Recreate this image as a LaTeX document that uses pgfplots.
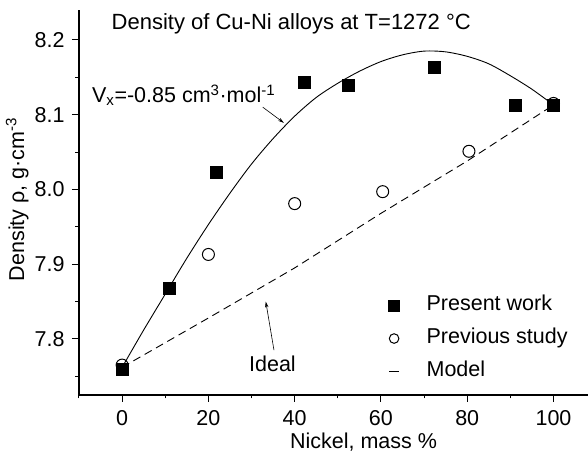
\documentclass[border=0pt]{standalone}
\usepackage{fontspec}
\setmainfont{Liberation Sans}
\usepackage{pgfplots}
\pgfplotsset{compat=1.18}
\usetikzlibrary{arrows.meta}
\newcommand\fs{\fontsize{21.5}{26}\selectfont}
\pgfplotsset{
  markleg/.style={legend image code/.code={\draw[##1] plot coordinates {(0pt,0pt)}; \path (-6pt,0pt) (29pt,0pt);}},
  lineleg/.style={legend image code/.code={\draw[##1] (-5pt,0pt) -- (5pt,0pt); \path (-6pt,0pt) (29pt,0pt);}},
}

\begin{document}
\begin{tikzpicture}
\path[use as bounding box] (0,0) rectangle (588pt,457pt);
\begin{axis}[
  at={(79pt,62pt)}, anchor=south west,
  scale only axis, width=509pt, height=385pt,
  xmin=-10, xmax=108, ymin=7.725, ymax=8.24,
  clip=false,
  axis x line=bottom, axis y line=left,
  axis line style={-, line width=1.1pt},
  tick align=outside,
  major tick length=7pt, minor tick length=3.5pt,
  tick style={black, line width=1pt},
  xtick={0,20,40,60,80,100},
  minor xtick={-10,10,30,50,70,90},
  ytick={7.8,7.9,8.0,8.1,8.2},
  minor ytick={7.75,7.85,7.95,8.05,8.15},
  /pgf/number format/assume math mode=true,
  yticklabel style={xshift=-4pt, /pgf/number format/.cd, fixed, fixed zerofill, precision=1},
  xticklabel style={yshift=-5pt},
  tick label style={font=\fs},
  label style={font=\fs},
  xlabel={Nickel, mass \%},
  ylabel={Density ρ, g·cm\textsuperscript{-3}},
  xlabel style={at={(axis description cs:0.559,-0.138)}, anchor=base},
  ylabel style={at={(axis description cs:-0.108,0.508)}, anchor=base, rotate=0},
  legend style={draw=none, fill=none, font=\fs,
    at={(axis cs:60.8,7.865)}, anchor=north west,
    nodes={inner sep=3pt, text height=15pt, text depth=5pt},
    row sep=7pt},
  legend cell align=left,
]
\addlegendimage{black, only marks, mark=square*, mark size=5.5pt, markleg}
\addlegendentry{Present work}
\addlegendimage{black, only marks, mark=o, mark size=4.8pt, line width=1pt, markleg}
\addlegendentry{Previous study}
\addlegendimage{black, line width=0.9pt, lineleg}
\addlegendentry{Model}

% model curve, V_x = -0.85
\addplot[black, line width=0.9pt, smooth, forget plot] coordinates {
(0,7.762) (5,7.812) (10,7.860) (15,7.908) (20,7.953) (25,7.995) (30,8.034)
(35,8.068) (40,8.098) (45,8.123) (50,8.142) (55,8.158) (60,8.171) (65,8.180)
(70,8.185) (75,8.184) (80,8.178) (85,8.168) (90,8.152) (95,8.134) (100,8.113)};
% ideal
\addplot[black, line width=0.9pt, dash pattern=on 8pt off 5pt, forget plot] coordinates {
(0,7.762) (20,7.828) (40,7.895) (60,7.968) (80,8.038) (100,8.113)};
% previous study
\addplot[black, only marks, mark=o, mark size=6pt, line width=1pt, forget plot] coordinates {
(0,7.765) (20,7.913) (40,7.981) (60.4,7.997) (80.4,8.051) (100,8.115)};
% present work
\addplot[black, only marks, mark=square*, mark size=6pt, forget plot] coordinates {
(0,7.760) (11,7.868) (21.7,8.023) (42.2,8.143) (52.4,8.140) (72.3,8.164) (91.1,8.112) (100,8.112)};

\node[anchor=base, inner sep=0, font=\fontsize{22}{27}\selectfont] at (axis cs:39.2,8.214) {Density of Cu-Ni alloys at T=1272 °C};
\node[anchor=base west, inner sep=0, font=\fs] at (axis cs:-7,8.116) {V\textsubscript{x}=-0.85 cm\textsuperscript{3}·mol\textsuperscript{-1}};
\draw[-{Stealth[length=6pt,width=3.5pt]}, line width=0.6pt] (axis cs:32.6,8.110) -- (axis cs:37.5,8.089);
\node[anchor=base west, inner sep=0, font=\fs] at (axis cs:29.4,7.756) {Ideal};
\draw[-{Stealth[length=6pt,width=3.5pt]}, line width=0.6pt] (axis cs:35.2,7.785) -- (axis cs:33.3,7.850);
\end{axis}
\end{tikzpicture}
\end{document}
